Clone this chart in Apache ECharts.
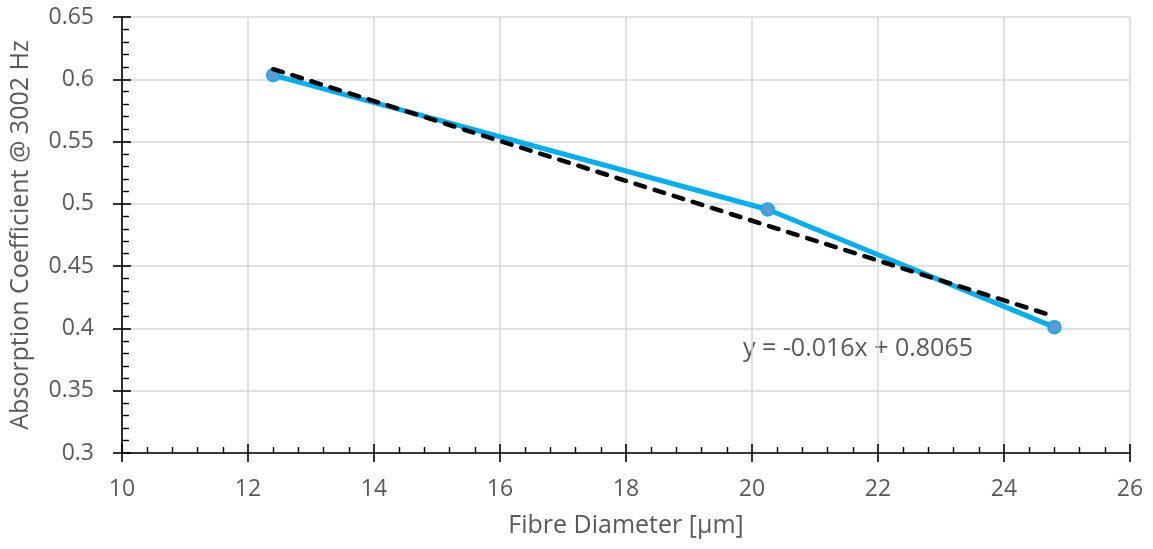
<!DOCTYPE html>
<html>
<head>
<meta charset="utf-8">
<script src="https://cdn.jsdelivr.net/npm/echarts@6/dist/echarts.min.js"></script>
<style>
  html, body { margin: 0; padding: 0; background: #ffffff; }
  #chart { width: 1153px; height: 549px; }
</style>
</head>
<body>
<div id="chart"></div>
<script>
// Measured absorption coefficient at 3002 Hz against fibre diameter
const fibreDiameter = [12.4, 20.25, 24.8];
const absorption = [0.6034, 0.4955, 0.401];

// Linear trendline as stated in the equation label
const trendSlope = -0.016;
const trendIntercept = 0.8065;
const trendLabel = 'y = -0.016x + 0.8065';

const xTicks = [10, 12, 14, 16, 18, 20, 22, 24, 26];
const yTicks = [0.3, 0.35, 0.4, 0.45, 0.5, 0.55, 0.6, 0.65];

const xStart = fibreDiameter[0];
const xEnd = fibreDiameter[fibreDiameter.length - 1];
const trendData = [
  [xStart, trendIntercept + trendSlope * xStart],
  [xEnd, trendIntercept + trendSlope * xEnd]
];
const measuredData = fibreDiameter.map((x, i) => [x, absorption[i]]);

const FONT = '"Open Sans", "Liberation Sans", sans-serif';
const TEXT = '#595959';

const chart = echarts.init(document.getElementById('chart'), null, { renderer: 'canvas' });

const xBase = {
  type: 'value',
  min: xTicks[0],
  max: xTicks[xTicks.length - 1],
  interval: 2,
  position: 'bottom',
  offset: 0
};
const yBase = {
  type: 'value',
  min: yTicks[0],
  max: yTicks[yTicks.length - 1],
  interval: 0.05,
  position: 'left',
  offset: 0
};

chart.setOption({
  animation: false,
  backgroundColor: '#ffffff',
  grid: { left: 122, right: 23, top: 17, bottom: 96, containLabel: false },
  xAxis: [
    Object.assign({}, xBase, {
      name: 'Fibre Diameter [µm]',
      nameLocation: 'middle',
      nameGap: 60,
      nameTextStyle: { color: TEXT, fontSize: 25, fontFamily: FONT },
      axisLine: { show: true, onZero: false, lineStyle: { color: '#000000', width: 1.6 } },
      axisTick: { show: true, inside: true, length: 9, lineStyle: { color: '#000000', width: 1.6 } },
      minorTick: { show: true, splitNumber: 5, length: 6, lineStyle: { color: '#000000', width: 1.4 } },
      axisLabel: { color: TEXT, fontSize: 23, fontFamily: FONT, margin: 25,
        formatter: v => String(v) },
      splitLine: { show: true, lineStyle: { color: '#d9d9d9', width: 1.6 } }
    }),
    Object.assign({}, xBase, {
      axisLine: { show: false, onZero: false },
      axisTick: { show: true, inside: false, length: 9, lineStyle: { color: '#000000', width: 1.6 } },
      axisLabel: { show: false },
      splitLine: { show: false }
    })
  ],
  yAxis: [
    Object.assign({}, yBase, {
      name: 'Absorption Coefficient @ 3002 Hz',
      nameLocation: 'middle',
      nameGap: 89,
      nameTextStyle: { color: TEXT, fontSize: 25, fontFamily: FONT },
      axisLine: { show: true, onZero: false, lineStyle: { color: '#000000', width: 1.6 } },
      axisTick: { show: true, inside: true, length: 9, lineStyle: { color: '#000000', width: 1.6 } },
      minorTick: { show: true, splitNumber: 5, length: 7, lineStyle: { color: '#000000', width: 1.4 } },
      axisLabel: { color: TEXT, fontSize: 23, fontFamily: FONT, margin: 28,
        formatter: v => String(parseFloat(v.toFixed(2))) },
      splitLine: { show: true, lineStyle: { color: '#d9d9d9', width: 1.6 } }
    }),
    Object.assign({}, yBase, {
      axisLine: { show: false, onZero: false },
      axisTick: { show: true, inside: false, length: 9, lineStyle: { color: '#000000', width: 1.6 } },
      axisLabel: { show: false },
      splitLine: { show: false }
    })
  ],
  series: [
    {
      name: 'Measured',
      type: 'line',
      xAxisIndex: 0,
      yAxisIndex: 0,
      data: measuredData,
      lineStyle: { color: '#00b0f0', width: 5 },
      symbol: 'circle',
      symbolSize: 13,
      itemStyle: { color: '#5b9bd5', borderColor: '#00b0f0', borderWidth: 1.5 },
      z: 3
    },
    {
      name: 'Linear trend',
      type: 'line',
      xAxisIndex: 0,
      yAxisIndex: 0,
      data: trendData,
      symbol: 'none',
      lineStyle: { color: '#000000', width: 4.5, type: [10, 10], cap: 'round' },
      z: 4
    }
  ],
  graphic: [
    {
      type: 'text',
      left: 743,
      top: 336,
      style: { text: trendLabel, fill: TEXT, fontSize: 25, fontFamily: FONT }
    }
  ]
});
</script>
</body>
</html>
